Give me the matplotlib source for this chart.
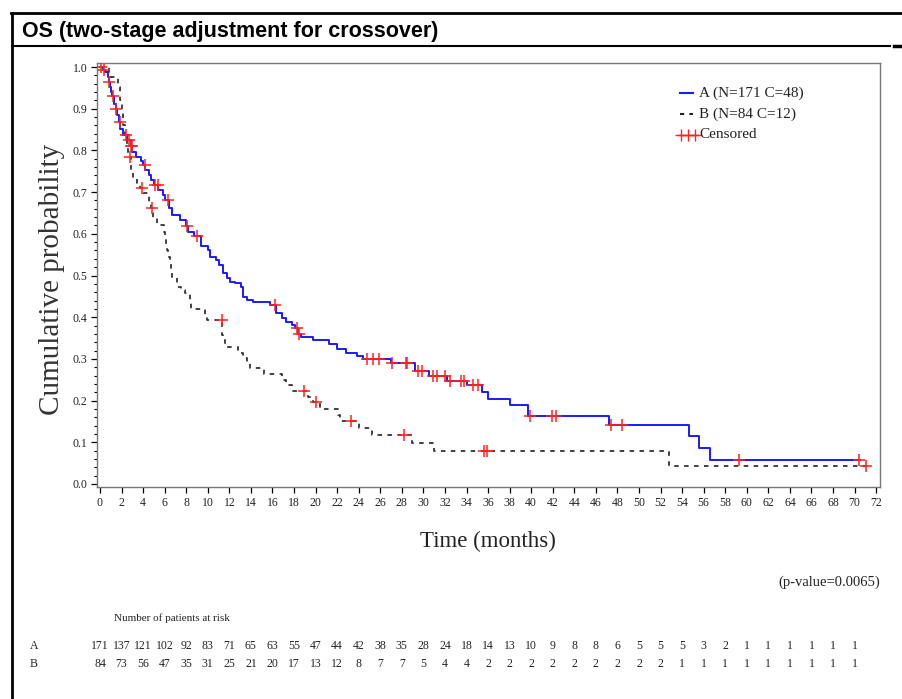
import matplotlib
matplotlib.use('Agg')
import matplotlib.pyplot as plt
from matplotlib.lines import Line2D
import matplotlib.transforms as mtransforms
import numpy as np

# ---------------- data ----------------
a_times = [0, 0.3, 0.5, 0.7, 0.8, 0.9, 1.0, 1.1, 1.3, 1.45, 1.6, 1.75, 1.9, 2.1, 2.5, 2.85,
           3.0, 3.3, 3.8, 4.0, 4.2, 4.5, 4.75, 5.0, 5.4, 5.8, 6.0, 6.4, 6.65, 7.4, 8.0, 8.2,
           8.7, 9.4, 10.05, 10.2, 10.8, 11.0, 11.4, 11.75, 12.06, 12.5, 13.1, 13.3, 13.6,
           14.2, 15.8, 16.3, 16.85, 17.3, 17.8, 18.1, 18.4, 18.6, 19.8, 21.2, 22.0, 22.8,
           23.8, 24.4, 27.0, 29.2, 30.5, 32.2, 34.0, 35.4, 36.0, 38.0, 39.7, 47.2, 54.6,
           55.6, 56.6]
a_surv = [1.0, 0.994, 0.988, 0.976, 0.965, 0.953, 0.941, 0.93, 0.912, 0.90, 0.885, 0.868,
          0.852, 0.838, 0.824, 0.81, 0.795, 0.783, 0.775, 0.765, 0.752, 0.74, 0.728, 0.716,
          0.704, 0.692, 0.68, 0.662, 0.645, 0.633, 0.619, 0.605, 0.595, 0.571, 0.561, 0.545,
          0.537, 0.525, 0.505, 0.493, 0.485, 0.481, 0.473, 0.449, 0.441, 0.436, 0.429, 0.409,
          0.397, 0.389, 0.381, 0.373, 0.36, 0.352, 0.345, 0.336, 0.324, 0.313, 0.306, 0.299,
          0.289, 0.271, 0.258, 0.246, 0.237, 0.221, 0.204, 0.19, 0.162, 0.141, 0.115, 0.087,
          0.058]
a_end = 70.5
a_cens = [0.1, 0.4, 0.87, 1.17, 1.48, 1.89, 2.44, 2.66, 2.9, 2.97, 4.14, 5.07, 5.38, 6.3,
          8.04, 9.03, 16.2, 18.3, 18.5, 24.8, 25.3, 25.9, 27.05, 28.4, 28.5, 29.5, 29.9,
          30.9, 31.3, 32.0, 32.5, 33.5, 33.8, 34.6, 35.1, 39.9, 41.9, 42.3, 47.4, 48.4,
          59.3, 70.4]

b_times = [0, 0.8, 1.7, 1.85, 2.0, 2.1, 2.3, 2.5, 2.6, 2.9, 3.1, 3.4, 3.7, 4.0, 4.5, 4.7,
           4.95, 5.26, 5.9, 6.05, 6.15, 6.25, 6.35, 6.45, 6.55, 6.65, 7.1, 7.5, 7.9, 8.35,
           8.45, 9.7, 9.9, 11.35, 11.4, 11.6, 12.8, 13.3, 13.6, 13.9, 15.2, 16.9, 17.3,
           17.8, 19.3, 19.8, 20.4, 22.1, 22.3, 24.0, 25.2, 28.9, 31.0, 52.8]
b_surv = [1.0, 0.976, 0.952, 0.92, 0.893, 0.862, 0.83, 0.81, 0.785, 0.745, 0.733, 0.721,
          0.709, 0.697, 0.677, 0.661, 0.637, 0.621, 0.605, 0.59, 0.575, 0.56, 0.545, 0.53,
          0.513, 0.497, 0.473, 0.465, 0.457, 0.433, 0.419, 0.405, 0.393, 0.357, 0.345,
          0.329, 0.315, 0.301, 0.289, 0.277, 0.264, 0.249, 0.237, 0.224, 0.209, 0.196,
          0.181, 0.166, 0.152, 0.134, 0.117, 0.098, 0.078, 0.042]
b_end = 71.1
b_cens = [2.75, 3.87, 4.8, 11.3, 18.9, 20.0, 23.3, 28.2, 35.6, 35.9, 71.1]

risk_times = list(range(0, 72, 2))
risk_a = [171, 137, 121, 102, 92, 83, 71, 65, 63, 55, 47, 44, 42, 38, 35, 28, 24, 18, 14,
          13, 10, 9, 8, 8, 6, 5, 5, 5, 3, 2, 1, 1, 1, 1, 1, 1]
risk_b = [84, 73, 56, 47, 35, 31, 25, 21, 20, 17, 13, 12, 8, 7, 7, 5, 4, 4, 2, 2, 2, 2, 2,
          2, 2, 2, 2, 1, 1, 1, 1, 1, 1, 1, 1, 1]

title = "OS (two-stage adjustment for crossover)"
legend_labels = ["A (N=171 C=48)", "B (N=84 C=12)", "Censored"]
xlabel = "Time (months)"
ylabel = "Cumulative probability"
pvalue = "(p-value=0.0065)"
risk_title = "Number of patients at risk"
group_names = ["A", "B"]

# ---------------- figure ----------------
W, H = 903, 699
fig = plt.figure(figsize=(W / 100, H / 100), dpi=100)
SERIF = ['Liberation Serif', 'DejaVu Serif']


def fx(px):
    return px / W


def fy(py):
    return 1 - py / H


ax = fig.add_axes([fx(97), fy(487), (880 - 97) / W, (487 - 63) / H])


def surv_at(times, surv, t):
    idx = np.searchsorted(times, t, side='right') - 1
    return surv[max(idx, 0)]


def draw_curve(times, surv, end, cens, **kw):
    xs = list(times) + [end]
    ys = list(surv) + [surv[-1]]
    ax.step(xs, ys, where='post', **kw)
    cy = [surv_at(times, surv, c) for c in cens]
    ax.plot(cens, cy, linestyle='none', marker='+', markersize=9, mew=1.1,
            color='#ff2020', zorder=5)


draw_curve(b_times, b_surv, b_end, b_cens, color='#333333', lw=1.3,
           linestyle=(0, (2.5, 3)), zorder=3)
draw_curve(a_times, a_surv, a_end, a_cens, color='#1a1aff', lw=1.4, zorder=4)

ax.set_xlim(-3 / 10.78, 780 / 10.78)
ax.set_ylim(-3 / 417, 421 / 417)
ax.set_xticks(np.arange(0, 73, 2))
ax.set_xticklabels([str(v) for v in range(0, 73, 2)])
ax.set_yticks(np.arange(0, 1.01, 0.1))
ax.set_yticklabels([f"{v:.1f}" for v in np.arange(0, 1.01, 0.1)])
ax.set_yticks(np.arange(0, 1.001, 0.02), minor=True)
ax.tick_params(axis='both', which='major', direction='out', length=4, width=0.9,
               labelsize=8.5, pad=3)
ax.tick_params(axis='y', which='minor', direction='out', length=2, width=0.8)
for lab in ax.get_xticklabels() + ax.get_yticklabels():
    lab.set_family(SERIF)
    lab.set_color('#222222')
for sp in ax.spines.values():
    sp.set_color('#777777')
    sp.set_linewidth(1.0)

# axis labels
fig.text(fx(488), fy(541), xlabel, family=SERIF, fontsize=16.5, ha='center', va='center',
         color='#222222')
fig.text(fx(52), fy(279), ylabel, family=SERIF, fontsize=21, ha='center', va='center',
         rotation=90, color='#333333')

# legend (manual)
fig.add_artist(Line2D([fx(680), fx(693)], [fy(93), fy(93)], color='#1a1aff', lw=1.5))
fig.add_artist(Line2D([fx(680), fx(693)], [fy(114), fy(114)], color='#222222', lw=1.5,
                      linestyle=(0, (2, 2.5))))
fig.add_artist(Line2D([fx(678), fx(698)], [fy(135), fy(135)], color='#ff2020', lw=1.0))
fig.add_artist(Line2D([fx(681), fx(688), fx(695)], [fy(135)] * 3, color='#ff2020',
                      linestyle='none', marker='+', markersize=8, mew=1.0))
for i, lab in enumerate(legend_labels):
    fig.text(fx(699), fy(93 + 21 * i), lab, family=SERIF, fontsize=11, ha='left',
             va='center', color='#222222')

# p-value
fig.text(fx(880), fy(582), pvalue, family=SERIF, fontsize=10.5, ha='right', va='center',
         color='#222222')

# risk table
fig.text(fx(114), fy(618), risk_title, family=SERIF, fontsize=8, ha='left', va='center',
         color='#222222')
trans = mtransforms.blended_transform_factory(ax.transData, fig.transFigure)
for row, (name, vals) in enumerate(zip(group_names, [risk_a, risk_b])):
    yy = fy(646 + 18 * row)
    fig.text(fx(30), yy, name, family=SERIF, fontsize=8.5, ha='left', va='center',
             color='#222222')
    for t, v in zip(risk_times, vals):
        fig.text(t, yy, str(v), transform=trans, family=SERIF, fontsize=8.5, ha='center',
                 va='center', color='#222222')

# title and frame
fig.text(fx(22), fy(31), title, family=['Liberation Sans Narrow', 'Liberation Sans'],
         fontsize=15.5, fontweight='bold', ha='left', va='center', color='black')
fig.add_artist(Line2D([fx(11), fx(903)], [fy(13), fy(13)], color='black', lw=2.0))
fig.add_artist(Line2D([fx(12), fx(12)], [fy(13), fy(699)], color='black', lw=2.0))
fig.add_artist(Line2D([fx(12), fx(890)], [fy(46), fy(46)], color='black', lw=1.5))
fig.add_artist(Line2D([fx(894), fx(903)], [fy(46), fy(46)], color='black', lw=2.5))

fig.savefig('out.png', dpi=100)
